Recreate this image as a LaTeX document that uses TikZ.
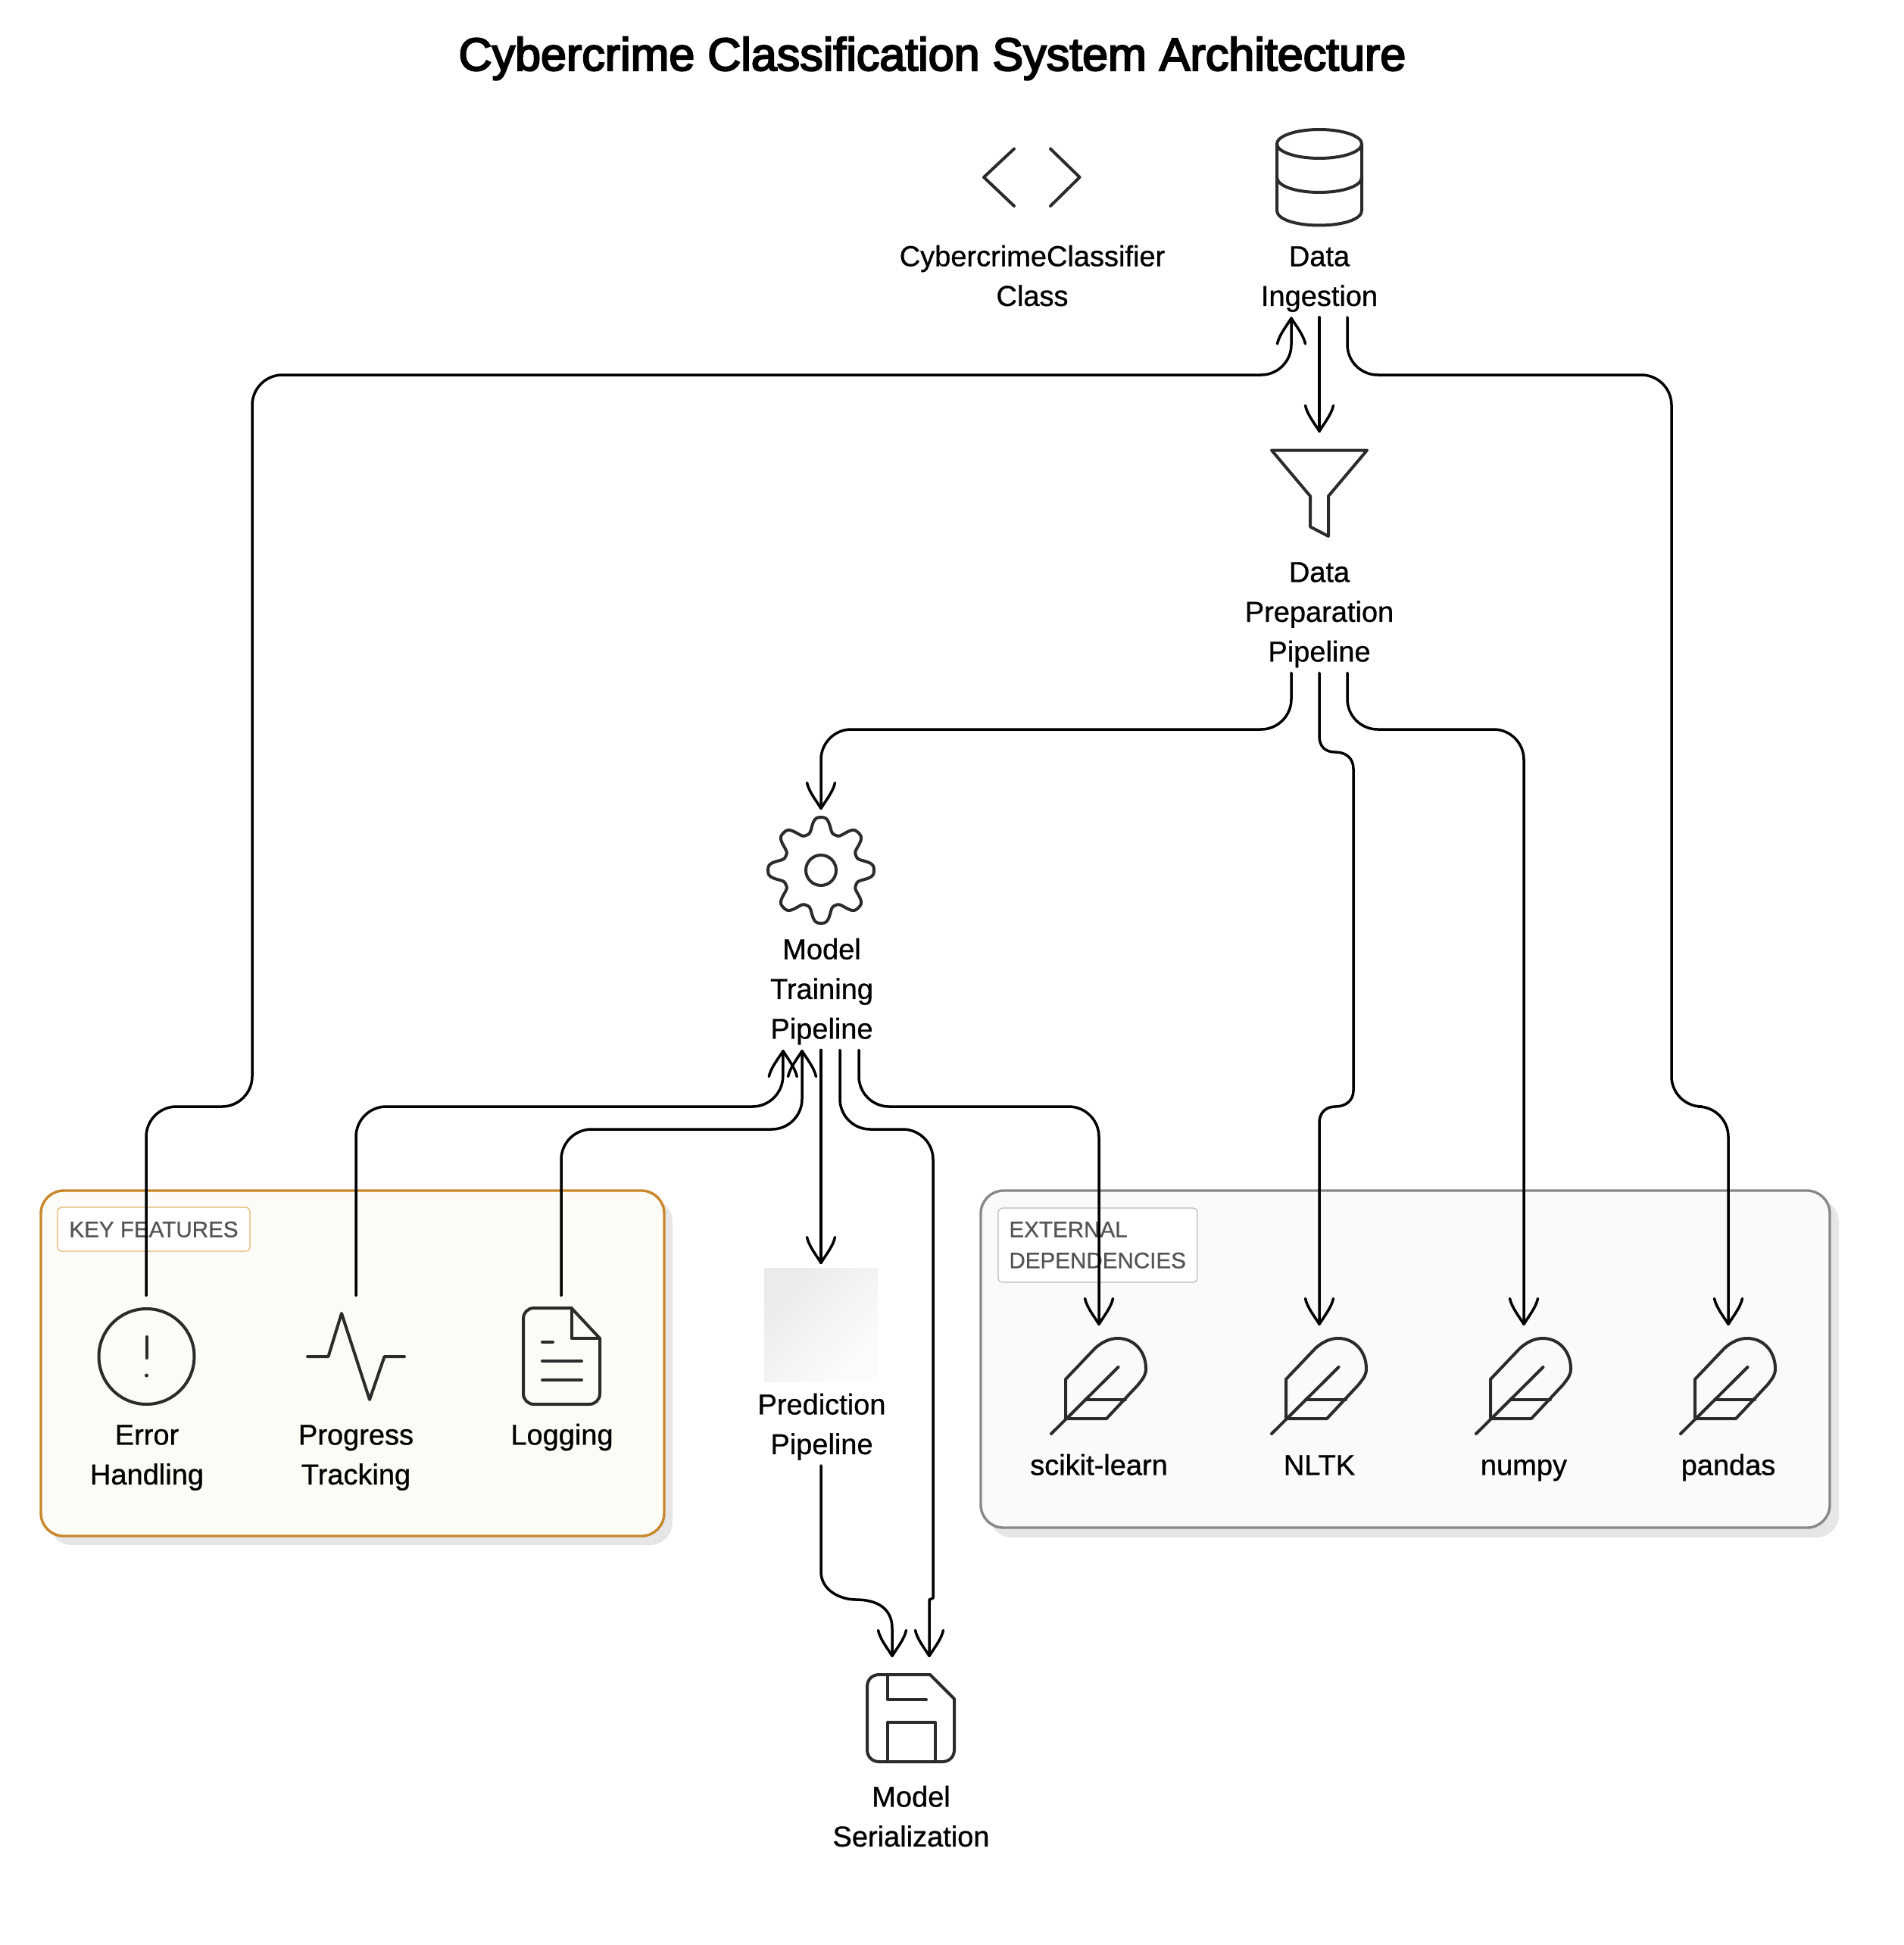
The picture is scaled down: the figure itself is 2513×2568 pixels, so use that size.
\documentclass[tikz,border=0pt]{standalone}
\usepackage{fontspec}
\setmainfont{Liberation Sans}
\newfontfamily\lblfont[FakeBold=0.8]{Liberation Sans}
\newfontfamily\grpfont[FakeBold=0.7]{Liberation Sans}
\newfontfamily\ttlfont[FakeBold=3.5]{Liberation Sans}
\usetikzlibrary{arrows.meta,calc}
\definecolor{ink}{HTML}{2B2B2B}
\definecolor{orangeedge}{HTML}{C8872A}
\definecolor{orangefill}{HTML}{FCFBF6}
\definecolor{orangelabel}{HTML}{E3B56E}
\definecolor{greyedge}{HTML}{888888}
\definecolor{greyfill}{HTML}{FAFAFA}
\definecolor{greylabel}{HTML}{BBBBBB}
\definecolor{shadowc}{HTML}{E6E6E6}
\pgfdeclarearrow{
  name=VBarb,
  setup code={\pgfarrowssettipend{0.6pt}\pgfarrowssetlineend{0pt}\pgfarrowssetbackend{-17pt}\pgfarrowssetvisualbackend{-1pt}},
  drawing code={\pgfsetdash{}{0pt}\pgfsetroundcap\pgfsetroundjoin
    \pgfpathmoveto{\pgfpoint{-17pt}{9.25pt}}
    \pgfpathcurveto{\pgfpoint{-11pt}{8pt}}{\pgfpoint{-5pt}{3pt}}{\pgfpoint{0pt}{0pt}}
    \pgfpathcurveto{\pgfpoint{-5pt}{-3pt}}{\pgfpoint{-11pt}{-8pt}}{\pgfpoint{-17pt}{-9.25pt}}
    \pgfusepathqstroke}
}
\newcommand{\ls}{\rule[-7.25pt]{0pt}{26.25pt}}
\tikzset{
  lbl/.style={anchor=north,inner sep=0pt,align=center,text=black,font=\lblfont\fontsize{19pt}{26.25pt}\selectfont},
  titlelbl/.style={anchor=base,inner sep=0pt,text=black,font=\ttlfont\fontsize{30.5pt}{36pt}\selectfont},
  icobox/.style={inner sep=0pt,minimum size=80pt,draw=none},
  ico/.style={draw=ink,line width=2pt,line cap=round,line join=round},
  conn/.style={draw=black,line width=1.75pt,line cap=round,line join=round},
  edge/.style={conn,-{VBarb},rounded corners=20pt},
  edgeplain/.style={conn,-{VBarb}},
  groupbox/.style={line width=1.7pt,rounded corners=15pt},
  grouplbl/.style={anchor=north west,inner sep=0pt,rounded corners=3pt,line width=.6pt,fill=white},
  grouptxt/.style={anchor=north west,inner sep=0pt,align=left,text=black!67,font=\grpfont\fontsize{14.8pt}{20.5pt}\selectfont},
  feather/.pic={
    \draw[ico] (-44,43) -- (-44,-9) -- (-5,-50) .. controls (4,-58) and (14,-63) .. (25,-63)
      .. controls (47,-63) and (62,-45) .. (62,-23) .. controls (62,-14) and (58,-10) .. (52,-2)
      -- (10,43) -- cycle;
    \draw[ico] (25.5,-25) -- (-63,63);
    \draw[ico] (-18,18) -- (35,18);
  }
}
\begin{document}
\begin{tikzpicture}[x=0.5pt,y=-0.5pt]
\path[use as bounding box,fill=white] (0,0) rectangle (2513,2568);

% ---- groups
\fill[shadowc,rounded corners=15pt] (65,1583) rectangle (888,2040);
\path[groupbox,draw=orangeedge,fill=orangefill] (54,1572) rectangle (877,2028);
\fill[shadowc,rounded corners=15pt] (1306,1583) rectangle (2428,2030);
\path[groupbox,draw=greyedge,fill=greyfill] (1295,1572) rectangle (2416,2017);

\path[grouplbl,draw=orangelabel] (76,1594) rectangle (330,1652);
\node[grouptxt] (keyLbl) at (91,1603) {\rule[-5.5pt]{0pt}{20.5pt}KEY FEATURES};
\path[grouplbl,draw=greylabel] (1318,1595) rectangle (1581,1693);
\node[grouptxt] (extLbl) at (1332,1603) {\rule[-5.5pt]{0pt}{20.5pt}EXTERNAL\\\rule[-5.5pt]{0pt}{20.5pt}DEPENDENCIES};

% ---- title
\node[titlelbl] (title) at (1231,93) {Cybercrime Classification System Architecture};

% ---- icon ports
\node[icobox] (codeIcon) at (1363,234) {};
\node[icobox] (dbIcon) at (1742,234) {};
\node[icobox] (prepIcon) at (1742,651) {};
\node[icobox] (trainIcon) at (1084,1149) {};
\node[icobox] (predIcon) at (1084,1749) {};
\node[icobox] (saveIcon) at (1203,2268) {};
\node[icobox] (errIcon) at (193,1791) {};
\node[icobox] (progIcon) at (470,1791) {};
\node[icobox] (logIcon) at (741,1791) {};
\node[icobox] (skIcon) at (1451,1830) {};
\node[icobox] (nltkIcon) at (1742,1830) {};
\node[icobox] (npIcon) at (2012,1830) {};
\node[icobox] (pdIcon) at (2282,1830) {};

% ---- icons
% code
\draw[ico] (1339,196.5) -- (1299,234) -- (1339,272);
\draw[ico] (1387,196.5) -- (1425.5,234) -- (1387,272);
% database
\draw[ico] (1742,190) ellipse [x radius=56,y radius=19];
\draw[ico] (1686,190) -- (1686,278) .. controls (1686,290) and (1712,297.5) .. (1742,297.5)
  .. controls (1772,297.5) and (1798,290) .. (1798,278) -- (1798,190);
\draw[ico] (1686,234) .. controls (1686,246) and (1712,254) .. (1742,254)
  .. controls (1772,254) and (1798,246) .. (1798,234);
% funnel
\draw[ico] (1679,594.5) -- (1805,594.5) -- (1754,655) -- (1754,708) -- (1730,695.5) -- (1730,655) -- cycle;
% gear
\draw[ico] plot[domain=0:360,samples=289,smooth] ({1084+(60+11*(cos(8*\x)-cos(24*\x)/10))*cos(\x)},{1149+(60+11*(cos(8*\x)-cos(24*\x)/10))*sin(\x)}) -- cycle;
\draw[ico] (1084,1149) circle [radius=20];
% prediction placeholder
\shade[shading=axis,top color=black!8,bottom color=black!1,shading angle=45] (1009,1674) rectangle (1159,1824);
% save
\draw[ico] (1228,2211) -- (1260,2243) -- (1260,2310) .. controls (1260,2320) and (1253,2326) .. (1244,2326)
  -- (1161,2326) .. controls (1152,2326) and (1145,2320) .. (1145,2310) -- (1145,2227)
  .. controls (1145,2217) and (1152,2211) .. (1161,2211) -- cycle;
\draw[ico] (1172,2211) -- (1172,2244) -- (1223,2244);
\draw[ico] (1172,2326) -- (1172,2274) -- (1235,2274) -- (1235,2326);
% error
\draw[ico] (193.5,1791) circle [radius=63];
\draw[ico] (193.5,1765) -- (193.5,1793);
\fill[ink] (193.5,1816) circle [radius=2.5];
% pulse
\draw[ico] (406,1791) -- (433.5,1791) -- (451,1734) -- (488,1848) -- (507.6,1791) -- (534,1791);
% file
\draw[ico] (754.5,1727) -- (705,1727) .. controls (697,1727) and (691,1733) .. (691,1741) -- (691,1840)
  .. controls (691,1848) and (697,1854) .. (705,1854) -- (778,1854) .. controls (786,1854) and (792,1848) .. (792,1840)
  -- (792,1767) -- cycle;
\draw[ico] (754.5,1727) -- (754.5,1767) -- (792,1767);
\draw[ico] (716,1772) -- (730,1772);
\draw[ico] (716,1797) -- (768,1797);
\draw[ico] (716,1822) -- (768,1822);
% feathers
\pic at (skIcon) {feather};
\pic at (nltkIcon) {feather};
\pic at (npIcon) {feather};
\pic at (pdIcon) {feather};

% ---- labels
\node[lbl] (code) at (1363,313) {\ls CybercrimeClassifier\\\ls Class};
\node[lbl] (ing) at (1742,313) {\ls Data\\\ls Ingestion};
\node[lbl] (prep) at (1742,730) {\ls Data\\\ls Preparation\\\ls Pipeline};
\node[lbl] (train) at (1085,1228) {\ls Model\\\ls Training\\\ls Pipeline};
\node[lbl] (pred) at (1085,1829) {\ls Prediction\\\ls Pipeline};
\node[lbl] (save) at (1203,2347) {\ls Model\\\ls Serialization};
\node[lbl] (err) at (194,1869) {\ls Error\\\ls Handling};
\node[lbl] (prog) at (470,1869) {\ls Progress\\\ls Tracking};
\node[lbl] (log) at (742,1869) {\ls Logging};
\node[lbl] (sk) at (1451,1909) {\ls scikit-learn};
\node[lbl] (nltk) at (1742,1909) {\ls NLTK};
\node[lbl] (np) at (2012,1909) {\ls numpy};
\node[lbl] (pd) at (2282,1909) {\ls pandas};

% ---- connector bends
\coordinate (progBend) at (1033.5,1461);
\coordinate (logBend) at (1059,1491);

% ---- connectors
\draw[edgeplain] (ing.south) -- (prepIcon.north);
\draw[edge] (errIcon.north) |- (333,1461) -- (333,495) -| ([xshift=-18.5pt]ing.south);
\draw[edge] ([xshift=18.5pt]ing.south) |- (2207,495) -- (2207,1461) -| (pdIcon.north);
\draw[edge] ([xshift=-18.5pt]prep.south) |- (1084,963) -- (trainIcon.north);
\draw[edge] ([xshift=18.5pt]prep.south) |- (2012,963) -- (npIcon.north);
\draw[edgeplain] (prep.south) -- (1742,972) .. controls (1742,986) and (1750,993) .. (1763,993)
  .. controls (1778,993) and (1787,1002) .. (1787,1015)
  -- (1787,1440) .. controls (1787,1452) and (1778,1461) .. (1763,1461)
  .. controls (1750,1461) and (1742,1470) .. (1742,1482) -- (nltkIcon.north);
\draw[edge] (progIcon.north) |- (progBend) -- ([xshift=-25.5pt]train.south);
\draw[edge] (logIcon.north) |- (logBend) -- ([xshift=-13pt]train.south);
\draw[edgeplain] (trainIcon |- train.south) -- (predIcon.north);
\draw[edge] ([xshift=24.5pt]train.south) |- (1451,1461) -- (skIcon.north);
\draw[edgeplain,rounded corners=20pt] ([xshift=12pt]train.south) |- (1232,1491) -- (1232,1700) [sharp corners] -- (1232,2110) -- (1227,2112) -- ([xshift=12pt]saveIcon.north);
\draw[edgeplain] (pred.south -| predIcon) -- (1084,2075) .. controls (1084,2100) and (1110,2112) .. (1130,2112)
  .. controls (1160,2112) and (1178,2125) .. (1178,2150) -- ([xshift=-12.5pt]saveIcon.north);
\end{tikzpicture}
\end{document}
